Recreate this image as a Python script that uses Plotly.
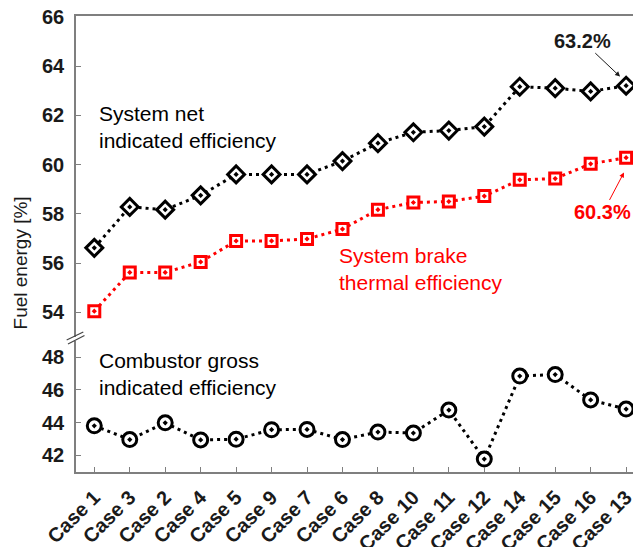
import plotly.graph_objects as go

cases = ["Case 1", "Case 3", "Case 2", "Case 4", "Case 5", "Case 9", "Case 7", "Case 6",
         "Case 8", "Case 10", "Case 11", "Case 12", "Case 14", "Case 15", "Case 16", "Case 13"]
net_indicated = [56.62, 58.28, 58.17, 58.75, 59.6, 59.6, 59.6, 60.14,
                 60.87, 61.31, 61.38, 61.54, 63.16, 63.1, 62.97, 63.2]
brake_thermal = [54.05, 55.62, 55.62, 56.05, 56.9, 56.9, 56.98, 57.38,
                 58.17, 58.46, 58.5, 58.72, 59.38, 59.43, 60.03, 60.28]
combustor_gross = [43.8, 42.96, 43.98, 42.94, 42.98, 43.56, 43.58, 42.96,
                   43.42, 43.36, 44.76, 41.77, 46.84, 46.93, 45.38, 44.82]

upper_ticks = [54, 56, 58, 60, 62, 64, 66]
lower_ticks = [42, 44, 46, 48]

FONT = "Arial, Liberation Sans, sans-serif"
RED = "#ff0000"
AXIS = "#7f7f7f"
DARK = "#1a1a1a"

fig = go.Figure()
fig.add_trace(go.Scatter(
    x=cases, y=net_indicated, xaxis="x2", yaxis="y2", mode="lines+markers",
    line=dict(color="black", width=3, dash="3px,4px"),
    marker=dict(symbol="diamond-dot", size=13, color="white",
                line=dict(color="black", width=3)),
))
fig.add_trace(go.Scatter(
    x=cases, y=brake_thermal, xaxis="x2", yaxis="y2", mode="lines+markers",
    line=dict(color=RED, width=3, dash="3px,4px"),
    marker=dict(symbol="square-dot", size=11, color="white",
                line=dict(color=RED, width=3)),
))
fig.add_trace(go.Scatter(
    x=cases, y=combustor_gross, mode="lines+markers",
    line=dict(color="black", width=3, dash="3px,4px"),
    marker=dict(symbol="circle-dot", size=14, color="white",
                line=dict(color="black", width=3)),
))

xrange = [-0.516, 15.42]
yfont = dict(family=FONT, size=20, color=DARK, weight="bold")

# page body adds an 8px offset, so the figure is 8px smaller than the window
fig.update_layout(
    width=633, height=539,
    paper_bgcolor="white", plot_bgcolor="white",
    showlegend=False,
    margin=dict(l=68, r=0, t=8, b=75),
    font=dict(family=FONT, color="black"),
    xaxis=dict(
        range=xrange, domain=[0, 1], anchor="y", automargin=False,
        showline=True, linecolor=AXIS, linewidth=1.5,
        ticks="inside", ticklen=5, tickcolor=AXIS,
        tickangle=-45, tickfont=dict(family=FONT, size=20, color=DARK, weight="bold"),
        ticklabelstandoff=4, ticklabeloverflow="allow", showgrid=False, zeroline=False,
    ),
    yaxis=dict(
        range=[40.98, 48.97], domain=[0, 0.287], anchor="x", automargin=False,
        tickvals=lower_ticks, showline=True, linecolor=AXIS, linewidth=1.5,
        ticks="inside", ticklen=5, tickcolor=AXIS, mirror="ticks",
        tickfont=yfont, ticklabelstandoff=6, showgrid=False, zeroline=False,
    ),
    xaxis2=dict(
        range=xrange, domain=[0, 1], anchor="y2", side="top", automargin=False,
        showline=True, linecolor=AXIS, linewidth=1.5,
        ticks="", showticklabels=False, showgrid=False, zeroline=False,
    ),
    yaxis2=dict(
        range=[53.0, 66.03], domain=[0.296, 1], anchor="x2", automargin=False,
        tickvals=upper_ticks, showline=True, linecolor=AXIS, linewidth=1.5,
        ticks="inside", ticklen=5, tickcolor=AXIS, mirror="ticks",
        tickfont=yfont, ticklabelstandoff=6, ticklabeloverflow="allow",
        showgrid=False, zeroline=False,
    ),
)

# axis break marks
for x0, y0, x1, y1 in [(-0.0165, 0.2895, 0.0129, 0.3070), (-0.0142, 0.2807, 0.015, 0.2993)]:
    fig.add_shape(type="line", xref="paper", yref="paper", x0=x0, y0=y0, x1=x1, y1=y1,
                  line=dict(color="#444444", width=1.2))

fig.add_annotation(
    text="Fuel energy [%]", xref="paper", yref="paper", x=-0.0986, y=0.458,
    xanchor="center", yanchor="middle",
    textangle=-90, showarrow=False, font=dict(family=FONT, size=19, color=DARK),
)

label_font = dict(family=FONT, size=21, color="black")
fig.add_annotation(
    text="System net<br>indicated efficiency", xref="x2", yref="y2", x=0.08, y=61.52,
    xanchor="left", align="left", showarrow=False, font=label_font,
)
fig.add_annotation(
    text="System brake<br>thermal efficiency", xref="x2", yref="y2", x=6.85, y=55.77,
    xanchor="left", align="left", showarrow=False, font=dict(label_font, color=RED),
)
fig.add_annotation(
    text="Combustor gross<br>indicated efficiency", xref="x", yref="y", x=0.08, y=46.96,
    xanchor="left", align="left", showarrow=False, font=label_font,
)
fig.add_annotation(
    text="63.2%", xref="x2", yref="y2", x=14.83, y=63.57, ax=-38, ay=-36,
    showarrow=True, arrowhead=2, arrowsize=1, arrowwidth=1, arrowcolor=DARK,
    font=dict(family=FONT, size=20, color=DARK, weight="bold"),
)
fig.add_annotation(
    text="60.3%", xref="x2", yref="y2", x=14.94, y=59.68, ax=-21, ay=40,
    showarrow=True, arrowhead=2, arrowsize=1, arrowwidth=1, arrowcolor=RED,
    font=dict(family=FONT, size=20, color=RED, weight="bold"),
)

fig.write_html("out.html")
